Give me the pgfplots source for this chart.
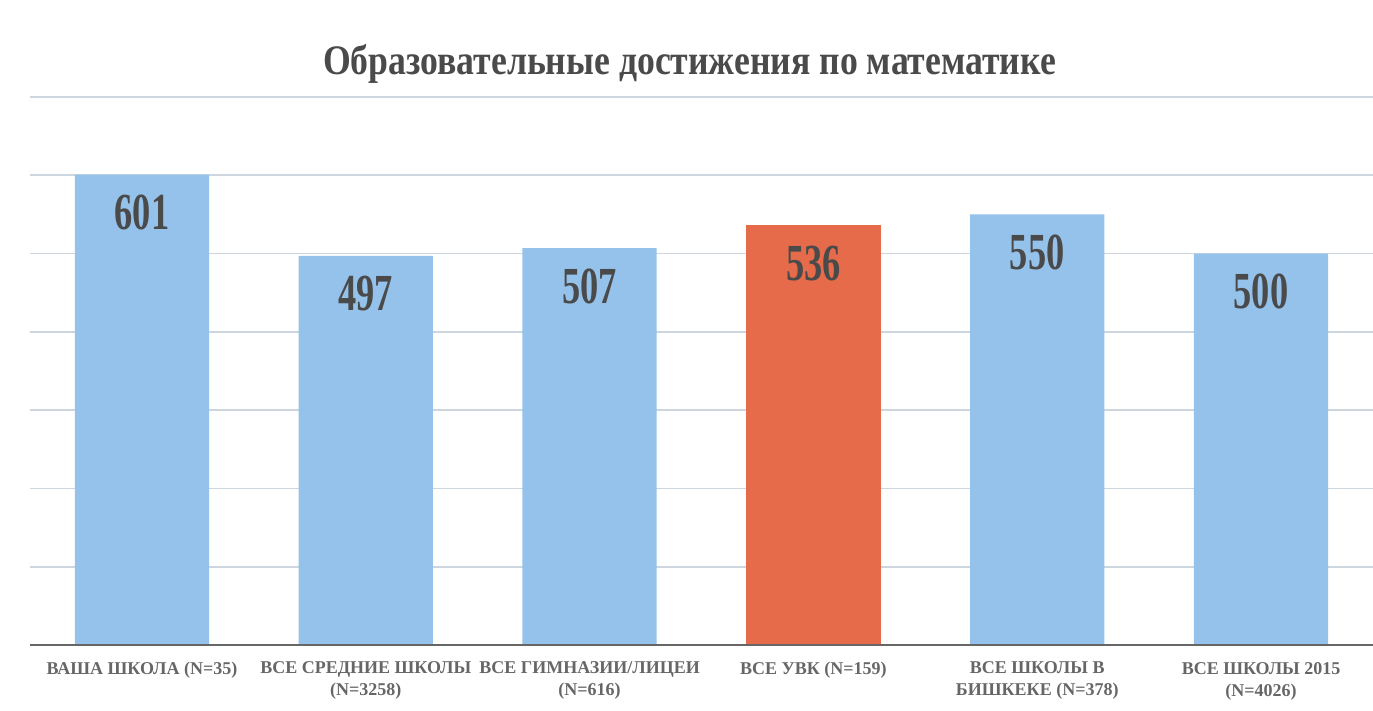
\documentclass[border=0pt]{standalone}
\usepackage{fontspec}
\setmainfont{Liberation Serif}
\newfontfamily\titlefont[FakeStretch=0.85]{Liberation Serif}
\newfontfamily\numfont[FakeStretch=0.7]{Liberation Serif}
\newfontfamily\labfont{Liberation Serif}
\usepackage{pgfplots}
\pgfplotsset{compat=1.18}
\definecolor{barblue}{HTML}{94C2EA}
\definecolor{barred}{HTML}{E56B4B}
\definecolor{gridc}{HTML}{CDD5DE}
\definecolor{txt}{HTML}{4A4A4A}
\definecolor{lab}{HTML}{666666}
\begin{document}
\begin{tikzpicture}
\begin{axis}[
 name=ax,
 scale only axis, width=671.5pt, height=274pt,
 xmin=-0.5, xmax=5.5, ymin=0, ymax=700,
 axis line style={draw=none},
 ytick={100,200,...,700}, yticklabels={}, ymajorgrids,
 grid style={gridc, line width=0.8pt},
 major tick length=0pt,
 xtick={0,...,5},
 xticklabels={{ВАША ШКОЛА (N=35)}, {ВСЕ СРЕДНИЕ ШКОЛЫ\\(N=3258)}, {ВСЕ ГИМНАЗИИ/ЛИЦЕИ\\(N=616)}, {ВСЕ УВК (N=159)}, {ВСЕ ШКОЛЫ В\\БИШКЕКЕ (N=378)}, {ВСЕ ШКОЛЫ 2015\\(N=4026)}},
 xticklabel style={align=center, font=\labfont\bfseries\fontsize{9}{11}\selectfont, text=lab, anchor=north, yshift=-5pt},
 ybar, bar width=0.6, bar shift=0pt,
 nodes near coords={\pgfmathprintnumber[assume math mode=true]{\pgfplotspointmeta}},
 every node near coord/.append style={anchor=center, yshift=-19pt, font=\numfont\bfseries\fontsize{26}{26}\selectfont, text=txt},
 clip=false,
]
\addplot[fill=barblue, draw=none] coordinates {(0,601)(1,497)(2,507)(4,550)(5,500)};
\addplot[fill=barred, draw=none] coordinates {(3,536)};
\draw[line width=1.2pt, color=black!60] (axis cs:-0.5,0) -- (axis cs:5.5,0);
\end{axis}
\node[font=\titlefont\bfseries\fontsize{21}{21}\selectfont, text=txt] at ([xshift=-6pt, yshift=16.5pt]ax.north) {Образовательные достижения по математике};
\pgfresetboundingbox
\path ([xshift=-15pt,yshift=-33pt]ax.south west) rectangle ++(686.5pt,355.5pt);
\end{tikzpicture}
\end{document}
